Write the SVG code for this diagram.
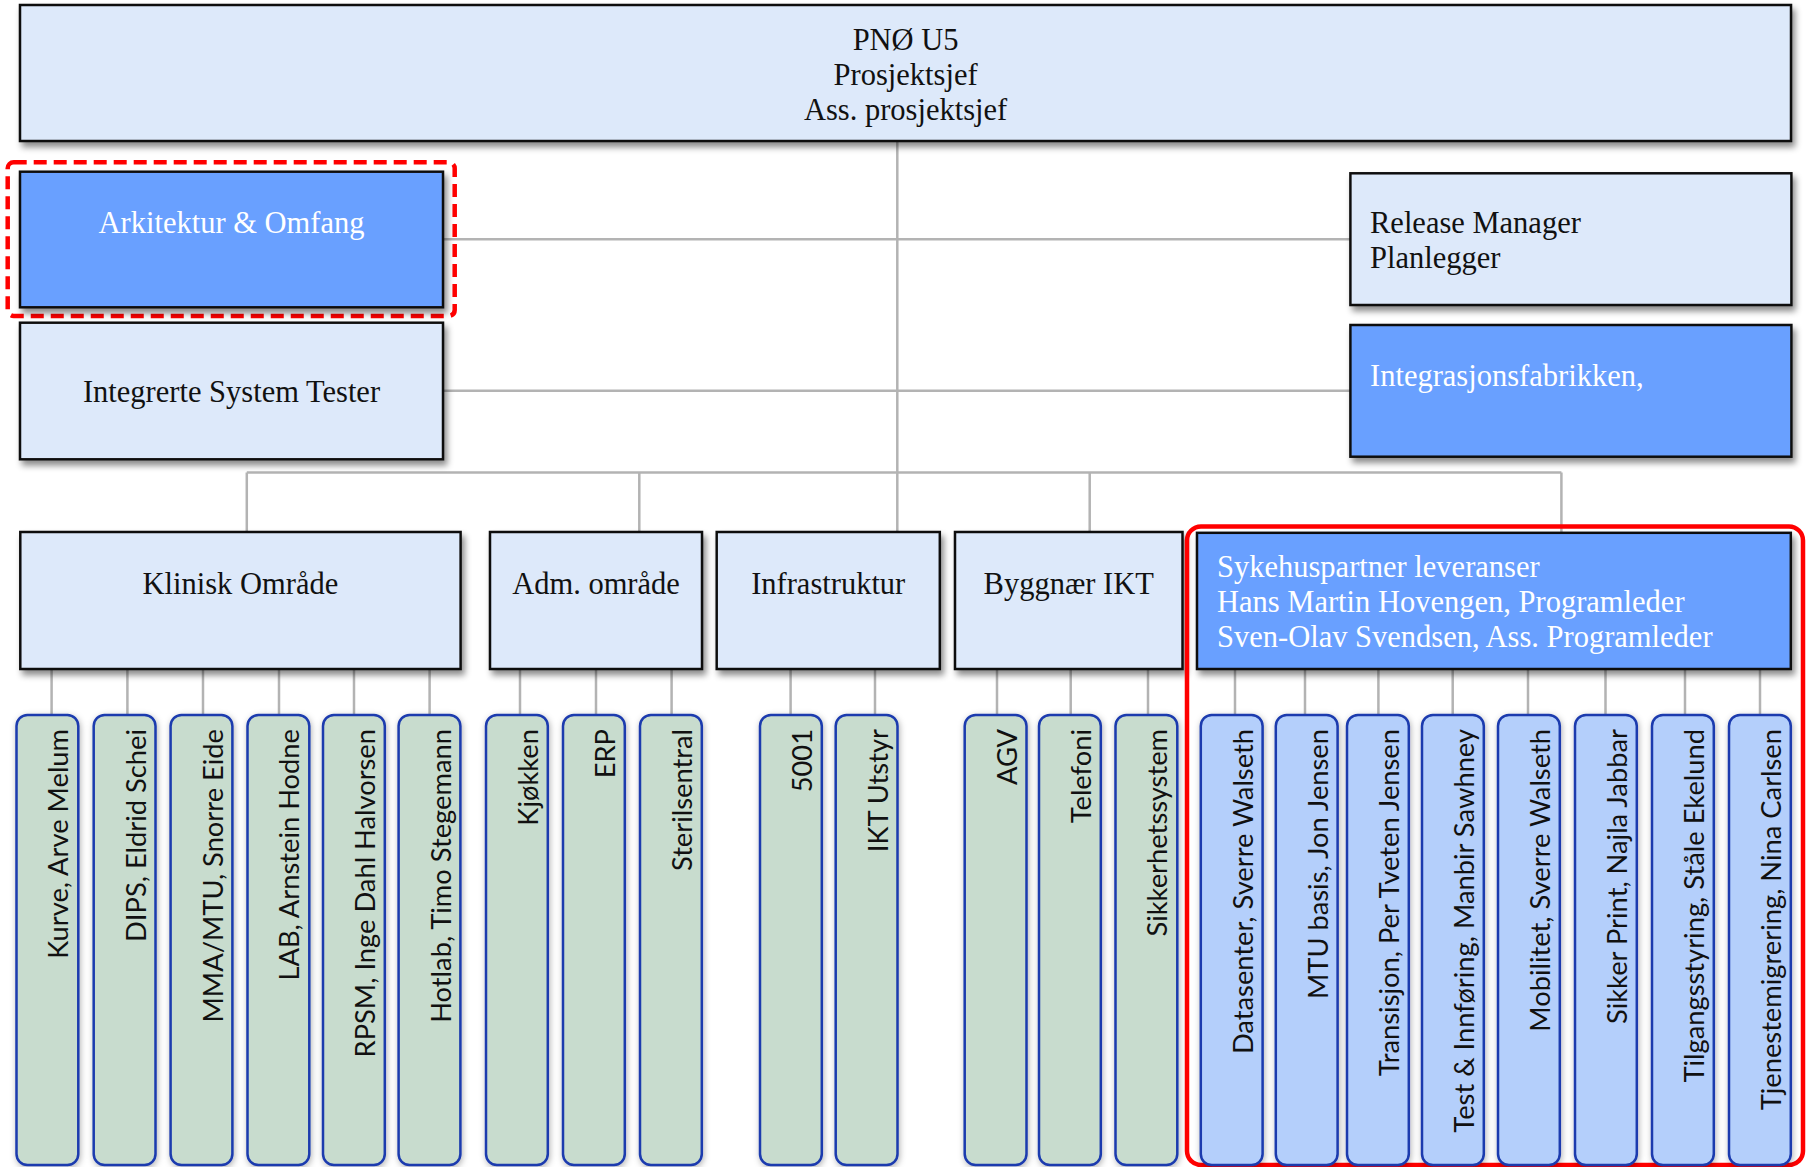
<svg xmlns="http://www.w3.org/2000/svg" width="1806" height="1167" viewBox="0 0 1806 1167">
<defs>
<filter id="sh" x="-10%" y="-10%" width="130%" height="140%">
<feDropShadow dx="3" dy="5" stdDeviation="3" flood-color="#000" flood-opacity="0.45"/>
</filter>
<filter id="sh2" x="-30%" y="-5%" width="160%" height="120%">
<feDropShadow dx="1" dy="2" stdDeviation="3" flood-color="#000" flood-opacity="0.3"/>
</filter>
</defs>
<style>
.lb{fill:#DDE9FA;stroke:#111;stroke-width:2.5;filter:url(#sh)}
.db{fill:#69A0FF;stroke:#111;stroke-width:2.5;filter:url(#sh)}
.gc{fill:#C8DCCE;stroke:#1A3AAE;stroke-width:2.5;filter:url(#sh2)}
.bc{fill:#B4CFFB;stroke:#1A3AAE;stroke-width:2.5;filter:url(#sh2)}
.st{font-family:"Liberation Serif","Times New Roman",serif;font-size:30.5px;fill:#111}
.sw{font-family:"Liberation Serif","Times New Roman",serif;font-size:30.5px;fill:#fff}
.ct{font-family:Lato,"Liberation Sans",sans-serif;font-size:27.3px;fill:#111;text-anchor:end}
.mid{text-anchor:middle}
.cn{stroke:#B3B3B3;stroke-width:2.5;fill:none}
</style>
<rect width="1806" height="1167" fill="#fff"/>

<g id="connectors" class="cn">
<path d="M897.3 141V532"/>
<path d="M443 239.3H1350"/>
<path d="M443 390.7H1350"/>
<path d="M246.8 472.5H1561.4"/>
<path d="M246.8 472.5V532M639.3 472.5V532M1089.7 472.5V532M1561.4 472.5V532"/>
<path d="M51.6 669V715M127.4 669V715M203 669V715M279 669V715M354 669V715M429.6 669V715"/>
<path d="M520 669V715M596 669V715M671.6 669V715"/>
<path d="M790.6 669V715M875 669V715"/>
<path d="M997 669V715M1070.7 669V715M1148 669V715"/>
<path d="M1235 669V715M1305 669V715M1378.4 669V715M1452.7 669V715M1528 669V715M1605.5 669V715M1685 669V715M1760 669V715"/>
</g>

<g id="n-top">
<rect class="lb" x="20" y="5" width="1771" height="136"/>
<text class="st mid" x="905.6" y="50">PNØ U5</text>
<text class="st mid" x="905.6" y="85">Prosjektsjef</text>
<text class="st mid" x="905.6" y="120">Ass. prosjektsjef</text>
</g>

<g id="n-arkitektur">
<rect x="7.7" y="162.3" width="447" height="153.7" rx="6" fill="none" stroke="#F00" stroke-width="4.5" stroke-dasharray="13 7"/>
<rect class="db" x="20" y="171.7" width="423" height="135.6"/>
<text class="sw mid" x="231.5" y="233">Arkitektur &amp; Omfang</text>
</g>

<g id="n-integrerte">
<rect class="lb" x="20" y="322.7" width="423" height="136.6"/>
<text class="st mid" x="231.5" y="401.5">Integrerte System Tester</text>
</g>

<g id="n-release">
<rect class="lb" x="1350.4" y="173.3" width="441" height="131.7"/>
<text class="st" x="1370" y="233">Release Manager</text>
<text class="st" x="1370" y="267.5">Planlegger</text>
</g>

<g id="n-integrasjon">
<rect class="db" x="1350.4" y="325" width="441" height="131.7"/>
<text class="sw" x="1370" y="385.5">Integrasjonsfabrikken,</text>
</g>

<g id="n-klinisk">
<rect class="lb" x="20.3" y="532" width="440.3" height="137"/>
<text class="st mid" x="240.4" y="594">Klinisk Område</text>
</g>
<g id="n-adm">
<rect class="lb" x="490" y="532" width="212" height="137"/>
<text class="st mid" x="596" y="594">Adm. område</text>
</g>
<g id="n-infra">
<rect class="lb" x="716.7" y="532" width="223.1" height="137"/>
<text class="st mid" x="828.2" y="594">Infrastruktur</text>
</g>
<g id="n-byggnaer">
<rect class="lb" x="955" y="532" width="227.5" height="137"/>
<text class="st mid" x="1068.7" y="594">Byggnær IKT</text>
</g>
<g id="n-sykehus">
<rect x="1187" y="526.4" width="616" height="638.6" rx="14" fill="none" stroke="#F00" stroke-width="4.5"/>
<rect class="db" x="1197" y="532.8" width="593.8" height="136.2"/>
<text class="sw" x="1217" y="577">Sykehuspartner leveranser</text>
<text class="sw" x="1217" y="612">Hans Martin Hovengen, Programleder</text>
<text class="sw" x="1217" y="647">Sven-Olav Svendsen, Ass. Programleder</text>
</g>

<g id="c-kurve"><rect class="gc" x="16.5" y="715" width="61.8" height="450" rx="11"/><text class="ct" transform="translate(68.4 729) rotate(-90)">Kurve, Arve Melum</text></g>
<g id="c-dips"><rect class="gc" x="93.7" y="715" width="61.8" height="450" rx="11"/><text class="ct" transform="translate(145.6 729) rotate(-90)">DIPS, Eldrid Schei</text></g>
<g id="c-mma"><rect class="gc" x="170.6" y="715" width="61.8" height="450" rx="11"/><text class="ct" transform="translate(222.5 729) rotate(-90)">MMA/MTU, Snorre Eide</text></g>
<g id="c-lab"><rect class="gc" x="247.5" y="715" width="61.8" height="450" rx="11"/><text class="ct" transform="translate(299.4 729) rotate(-90)">LAB, Arnstein Hodne</text></g>
<g id="c-rpsm"><rect class="gc" x="323" y="715" width="61.8" height="450" rx="11"/><text class="ct" transform="translate(374.9 729) rotate(-90)">RPSM, Inge Dahl Halvorsen</text></g>
<g id="c-hotlab"><rect class="gc" x="398.6" y="715" width="61.8" height="450" rx="11"/><text class="ct" transform="translate(450.5 729) rotate(-90)">Hotlab, Timo Stegemann</text></g>

<g id="c-kjokken"><rect class="gc" x="486" y="715" width="61.8" height="450" rx="11"/><text class="ct" transform="translate(537.9 729) rotate(-90)">Kjøkken</text></g>
<g id="c-erp"><rect class="gc" x="563" y="715" width="61.8" height="450" rx="11"/><text class="ct" transform="translate(614.9 729) rotate(-90)">ERP</text></g>
<g id="c-steril"><rect class="gc" x="640" y="715" width="61.8" height="450" rx="11"/><text class="ct" transform="translate(691.9 729) rotate(-90)">Sterilsentral</text></g>

<g id="c-5001"><rect class="gc" x="760" y="715" width="61.8" height="450" rx="11"/><text class="ct" transform="translate(811.9 729) rotate(-90)">5001</text></g>
<g id="c-ikt"><rect class="gc" x="835.7" y="715" width="61.8" height="450" rx="11"/><text class="ct" transform="translate(887.6 729) rotate(-90)">IKT Utstyr</text></g>

<g id="c-agv"><rect class="gc" x="964.7" y="715" width="61.8" height="450" rx="11"/><text class="ct" transform="translate(1016.6 729) rotate(-90)">AGV</text></g>
<g id="c-telefoni"><rect class="gc" x="1039" y="715" width="61.8" height="450" rx="11"/><text class="ct" transform="translate(1090.9 729) rotate(-90)">Telefoni</text></g>
<g id="c-sikkerhet"><rect class="gc" x="1115.5" y="715" width="61.8" height="450" rx="11"/><text class="ct" transform="translate(1167.4 729) rotate(-90)">Sikkerhetssystem</text></g>

<g id="c-datasenter"><rect class="bc" x="1200.8" y="715" width="61.8" height="450" rx="11"/><text class="ct" transform="translate(1252.7 729) rotate(-90)">Datasenter, Sverre Walseth</text></g>
<g id="c-mtu"><rect class="bc" x="1275.8" y="715" width="61.8" height="450" rx="11"/><text class="ct" transform="translate(1327.7 729) rotate(-90)">MTU basis, Jon Jensen</text></g>
<g id="c-transisjon"><rect class="bc" x="1347" y="715" width="61.8" height="450" rx="11"/><text class="ct" transform="translate(1398.9 729) rotate(-90)">Transisjon, Per Tveten Jensen</text></g>
<g id="c-test"><rect class="bc" x="1422" y="715" width="61.8" height="450" rx="11"/><text class="ct" transform="translate(1473.9 729) rotate(-90)">Test &amp; Innføring, Manbir Sawhney</text></g>
<g id="c-mobilitet"><rect class="bc" x="1498" y="715" width="61.8" height="450" rx="11"/><text class="ct" transform="translate(1549.9 729) rotate(-90)">Mobilitet, Sverre Walseth</text></g>
<g id="c-sikkerprint"><rect class="bc" x="1575" y="715" width="61.8" height="450" rx="11"/><text class="ct" transform="translate(1626.9 729) rotate(-90)">Sikker Print, Najla Jabbar</text></g>
<g id="c-tilgang"><rect class="bc" x="1652" y="715" width="61.8" height="450" rx="11"/><text class="ct" transform="translate(1703.9 729) rotate(-90)">Tilgangsstyring, Ståle Ekelund</text></g>
<g id="c-tjeneste"><rect class="bc" x="1729" y="715" width="61.8" height="450" rx="11"/><text class="ct" transform="translate(1780.9 729) rotate(-90)">Tjenestemigrering, Nina Carlsen</text></g>
</svg>
